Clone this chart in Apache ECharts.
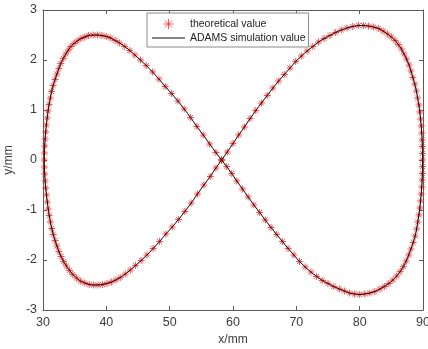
<!DOCTYPE html>
<html>
<head>
<meta charset="utf-8">
<script src="https://cdn.jsdelivr.net/npm/echarts@6/dist/echarts.min.js"></script>
<style>
  html, body { margin: 0; padding: 0; background: #fff; }
  #chart { width: 428px; height: 349px; }
</style>
</head>
<body>
<div id="chart"></div>
<script>
// Figure-eight trajectory, [x (mm), y (mm)], traced in four quarters.
// Upper half of the left loop: from the crossing, over the top, to the left end.
const leftUpper = [
  [58.2,0],[57.3,0.15],[56.3,0.32],[55.3,0.50],[54.3,0.67],[53.3,0.85],[52.3,1.02],[51.3,1.18],
  [50.3,1.33],[49.3,1.47],[48.3,1.62],[47.3,1.76],[46.3,1.89],[45.4,2.00],[44.5,2.10],[43.7,2.19],
  [42.9,2.27],[42.1,2.34],[41.4,2.39],[40.7,2.44],[40.0,2.47],[39.3,2.49],[38.6,2.50],[37.9,2.50],
  [37.2,2.49],[36.6,2.46],[36.0,2.43],[35.4,2.38],[34.9,2.33],[34.4,2.27],[34.0,2.20],[33.6,2.12],
  [33.2,2.03],[32.8,1.93],[32.5,1.83],[32.2,1.72],[31.9,1.61],[31.6,1.49],[31.35,1.37],[31.15,1.24],
  [30.95,1.11],[30.8,0.98],[30.65,0.84],[30.52,0.70],[30.42,0.56],[30.33,0.42],[30.27,0.28],[30.22,0.14],
  [30.2,0]
];
// Lower half of the left loop: from the left end, under the bottom, back to the crossing.
const leftLower = [
  [30.22,-0.14],[30.27,-0.28],[30.34,-0.42],[30.43,-0.56],[30.55,-0.70],[30.68,-0.84],[30.82,-0.98],
  [30.98,-1.11],[31.17,-1.24],[31.38,-1.37],[31.62,-1.49],[31.9,-1.61],[32.2,-1.72],[32.5,-1.83],
  [32.85,-1.93],[33.25,-2.03],[33.7,-2.12],[34.2,-2.21],[34.7,-2.29],[35.3,-2.36],[35.9,-2.42],
  [36.6,-2.46],[37.3,-2.49],[38.0,-2.50],[38.7,-2.50],[39.4,-2.49],[40.1,-2.47],[40.8,-2.44],
  [41.5,-2.40],[42.2,-2.35],[43.0,-2.28],[43.8,-2.20],[44.6,-2.11],[45.5,-2.01],[46.4,-1.90],
  [47.4,-1.77],[48.4,-1.63],[49.4,-1.48],[50.4,-1.34],[51.4,-1.19],[52.4,-1.03],[53.4,-0.86],
  [54.4,-0.68],[55.4,-0.50],[56.4,-0.33],[57.3,-0.16]
];
// Upper half of the right loop: from the crossing, over the top, to the right end.
const rightUpper = [
  [58.2,0],[59.1,0.16],[60.0,0.33],[60.9,0.50],[61.8,0.66],[62.7,0.83],[63.6,0.99],[64.5,1.14],
  [65.4,1.29],[66.3,1.44],[67.2,1.58],[68.1,1.71],[69.0,1.84],[69.9,1.97],[70.8,2.08],[71.7,2.18],
  [72.6,2.27],[73.5,2.36],[74.4,2.43],[75.3,2.49],[76.2,2.55],[77.1,2.60],[78.0,2.64],[78.9,2.67],
  [79.8,2.69],[80.6,2.69],[81.4,2.68],[82.2,2.66],[83.0,2.63],[83.7,2.58],[84.4,2.52],[85.0,2.46],
  [85.6,2.39],[86.1,2.31],[86.6,2.22],[87.0,2.12],[87.4,2.02],[87.8,1.90],[88.1,1.78],[88.4,1.65],
  [88.7,1.52],[88.95,1.38],[89.15,1.24],[89.35,1.10],[89.5,0.96],[89.62,0.82],[89.72,0.68],
  [89.8,0.54],[89.86,0.40],[89.9,0.27],[89.92,0.13],[89.93,0]
];
// Lower half of the right loop: from the right end, under the bottom, back to the crossing.
const rightLower = [
  [89.92,-0.13],[89.9,-0.27],[89.86,-0.40],[89.8,-0.54],[89.72,-0.68],[89.62,-0.82],[89.5,-0.96],
  [89.35,-1.10],[89.18,-1.24],[89.0,-1.38],[88.75,-1.52],[88.45,-1.65],[88.1,-1.78],[87.75,-1.90],
  [87.35,-2.02],[86.9,-2.13],[86.4,-2.23],[85.85,-2.32],[85.25,-2.40],[84.6,-2.47],[83.9,-2.53],
  [83.2,-2.58],[82.4,-2.63],[81.6,-2.66],[80.8,-2.68],[80.0,-2.69],[79.2,-2.68],[78.4,-2.66],
  [77.6,-2.62],[76.8,-2.58],[75.9,-2.53],[75.0,-2.47],[74.1,-2.41],[73.2,-2.33],[72.3,-2.24],
  [71.4,-2.14],[70.5,-2.03],[69.6,-1.90],[68.7,-1.77],[67.8,-1.63],[66.9,-1.49],[66.0,-1.35],
  [65.1,-1.20],[64.2,-1.05],[63.3,-0.90],[62.4,-0.74],[61.5,-0.58],[60.6,-0.42],[59.8,-0.27],
  [59.0,-0.13],[58.2,0]
];

const seriesNames = ['theoretical value', 'ADAMS simulation value'];
const axisNames = ['x/mm', 'y/mm'];
const xRange = [30, 90, 10];
const yRange = [-3, 3, 1];

const theoretical = [].concat(leftUpper, leftLower, rightUpper, rightLower);
// The simulated path follows the theoretical one point for point.
const simulation = theoretical;

const asterisk = 'path://M5,0L5,10M0,5L10,5M1.5,1.5L8.5,8.5M1.5,8.5L8.5,1.5';
const lineIcon = 'path://M0,0L33,0L33,1L0,1Z';
const axisColor = '#5a5a5a';
const textColor = '#3c3c3c';
const font = 'Liberation Sans, Arial, sans-serif';

function xAxisCfg(pos, labels) {
  return {
    type: 'value', position: pos, min: xRange[0], max: xRange[1], interval: xRange[2],
    name: labels ? axisNames[0] : '', nameLocation: 'middle', nameGap: 21,
    nameTextStyle: { color: textColor, fontSize: 12, fontFamily: font },
    axisLine: { show: true, onZero: false, lineStyle: { color: axisColor, width: 1 } },
    axisTick: { show: true, inside: true, length: 4, lineStyle: { color: axisColor } },
    axisLabel: { show: labels, color: textColor, fontSize: 12.5, fontFamily: font, margin: 6 },
    splitLine: { show: false }
  };
}
function yAxisCfg(pos, labels) {
  return {
    type: 'value', position: pos, min: yRange[0], max: yRange[1], interval: yRange[2],
    name: labels ? axisNames[1] : '', nameLocation: 'middle', nameGap: 22,
    nameTextStyle: { color: textColor, fontSize: 12, fontFamily: font },
    axisLine: { show: true, onZero: false, lineStyle: { color: axisColor, width: 1 } },
    axisTick: { show: true, inside: true, length: 4, lineStyle: { color: axisColor } },
    axisLabel: { show: labels, color: textColor, fontSize: 12.5, fontFamily: font, margin: 6 },
    splitLine: { show: false }
  };
}

const chart = echarts.init(document.getElementById('chart'), null, { renderer: 'canvas' });
chart.setOption({
  animation: false,
  backgroundColor: '#ffffff',
  grid: { left: 43, right: 5, top: 10, bottom: 39, containLabel: false, outerBoundsMode: 'none' },
  xAxis: [xAxisCfg('bottom', true), xAxisCfg('top', false)],
  yAxis: [yAxisCfg('left', true), yAxisCfg('right', false)],
  legend: {
    orient: 'vertical', left: 147, top: 13,
    padding: [5, 3, 3, 5], itemGap: 2,
    itemWidth: 33, itemHeight: 10,
    backgroundColor: '#ffffff', borderColor: '#8a8a8a', borderWidth: 1, borderRadius: 0,
    textStyle: { color: '#222', fontSize: 10.5, fontFamily: font, lineHeight: 12 },
    data: [
      { name: seriesNames[0], icon: asterisk, itemStyle: { color: 'rgba(0,0,0,0)', borderColor: '#f02828', borderWidth: 1 } },
      { name: seriesNames[1], icon: lineIcon, itemStyle: { color: '#111', borderWidth: 0 } }
    ]
  },
  series: [
    {
      name: seriesNames[0], type: 'scatter', z: 2,
      symbol: asterisk, symbolSize: 7,
      itemStyle: { color: 'rgba(0,0,0,0)', borderColor: '#f02828', borderWidth: 1 },
      data: theoretical
    },
    {
      name: seriesNames[1], type: 'line', z: 3,
      showSymbol: false, symbol: 'none',
      lineStyle: { color: '#111', width: 1 },
      itemStyle: { color: '#111' },
      data: simulation
    }
  ]
});
</script>
</body>
</html>
